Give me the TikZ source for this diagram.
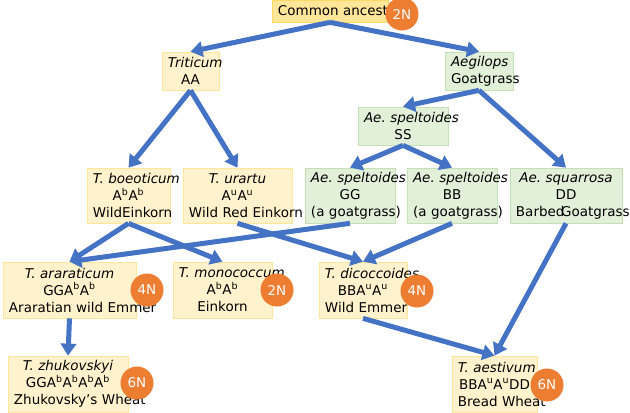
\documentclass[tikz,border=0pt]{standalone}
\usepackage{fontspec}
\setmainfont{DejaVu Sans}
\usetikzlibrary{arrows.meta}
\definecolor{wheatfill}{HTML}{FFF2CC}
\definecolor{wheatline}{HTML}{FFE699}
\definecolor{ancfill}{HTML}{FFE699}
\definecolor{ancline}{HTML}{FFD966}
\definecolor{grassfill}{HTML}{E2F0D9}
\definecolor{grassline}{HTML}{C5E0B4}
\definecolor{ploidy}{HTML}{ED7D31}
\definecolor{lineage}{HTML}{4472C4}
\hyphenpenalty=10000
\exhyphenpenalty=10000

\begin{document}
\begin{tikzpicture}[x=0.03cm, y=-0.03cm, ->, >={Triangle[length=0.36cm, width=0.46cm]}, line width=0.15cm, color=lineage]

\useasboundingbox (0, 0) rectangle (630, 413);

\tikzstyle{every node}=[rectangle, fill=wheatfill, draw=wheatline, line width=0.6pt, inner xsep=0.18cm, inner ysep=0pt, align=center, text=black, font=\fontsize{11.5}{14.5}\selectfont]
\draw    (330,   11)    node[fill=ancfill, draw=ancline, text width=3.12cm, minimum height=0.66cm] (anc) {Common~ancestor}
         (190.5, 71)    node[text width=1.35cm, minimum height=1.14cm] (trit) {\textit{Triticum}\\AA}
         (128.5, 195.5) node[text width=2.13cm, minimum height=1.65cm] (boeo) {\textit{T.~boeoticum}\\A\textsuperscript{b}A\textsuperscript{b}\\WildEinkorn}
         (237.5, 195.5) node[text width=2.91cm, minimum height=1.65cm] (urar) {\textit{T.~urartu}\\A\textsuperscript{u}A\textsuperscript{u}\\Wild~Red~Einkorn}
         (69.5,  290)   node[text width=3.63cm, minimum height=1.68cm] (arar) {\textit{T.~araraticum}\\GGA\textsuperscript{b}A\textsuperscript{b}\\Araratian~wild~Emmer}
         (222.5, 290)   node[text width=2.61cm, minimum height=1.68cm] (mono) {\textit{T.~monococcum}\\A\textsuperscript{b}A\textsuperscript{b}\\Einkorn}
         (363,   290)   node[text width=2.28cm, minimum height=1.68cm] (dico) {\textit{T.~dicoccoides}\\BBA\textsuperscript{u}A\textsuperscript{u}\\Wild~Emmer}
         (68,    384)   node[text width=3.24cm, minimum height=1.68cm] (zhuk) {\textit{T.~zhukovskyi}\\GGA\textsuperscript{b}A\textsuperscript{b}A\textsuperscript{b}A\textsuperscript{b}\\Zhukovsky’s~Wheat}
         (494.5, 384)   node[text width=2.19cm, minimum height=1.68cm] (aest) {\textit{T.~aestivum}\\BBA\textsuperscript{u}A\textsuperscript{u}DD\\Bread~Wheat};

\tikzstyle{every node}=[rectangle, fill=grassfill, draw=grassline, line width=0.6pt, inner xsep=0.18cm, inner ysep=0pt, align=center, text=black, font=\fontsize{11.5}{14.5}\selectfont]
\draw    (479,   71)    node[text width=1.68cm, minimum height=1.14cm] (aeg) {\textit{Aegilops}\\Goatgrass}
         (403,   126)   node[text width=2.34cm, minimum height=1.14cm] (spS) {\textit{Ae.~speltoides}\\SS}
         (350,   195.5) node[text width=2.34cm, minimum height=1.65cm] (spG) {\textit{Ae.~speltoides}\\GG\\(a~goatgrass)}
         (452,   195.5) node[text width=2.34cm, minimum height=1.65cm] (spB) {\textit{Ae.~speltoides}\\BB\\(a~goatgrass)}
         (566,   195.5) node[text width=3.00cm, minimum height=1.65cm] (squa) {\textit{Ae.~squarrosa}\\DD\\Barbed\kern-0.25em Goatgrass};

\draw (anc.south) -- (trit.north);
\draw (anc.south) -- (aeg.north);

\draw (trit.south) -- (boeo.north);
\draw (trit.south) -- (urar.north);

\draw (aeg.south) -- (spS.north);
\draw (aeg.south) -- (squa.north);

\draw (spS.south) -- (spG.north);
\draw (spS.south) -- (spB.north);

\draw (boeo.south) -- (arar.north);
\draw (boeo.south) -- (mono.north);
\draw (spG.south) -- (arar.north);

\draw (urar.south) -- (dico.north);
\draw (spB.south) -- (dico.north);

\draw (arar.south) -- (zhuk.north);
\draw (dico.south) -- (aest.north);
\draw (squa.south) -- (aest.north);

\tikzstyle{every node}=[circle, fill=ploidy, draw=none, text=white, minimum size=0.99cm, inner sep=0pt, font=\fontsize{11.5}{14.5}\selectfont]
\draw    (402,   14)    node (n0) {2N}
         (147,   290)   node (n1) {4N}
         (277,   290)   node (n2) {2N}
         (417,   291)   node (n3) {4N}
         (137,   383)   node (n4) {6N}
         (547,   385)   node (n5) {6N};

\end{tikzpicture}
\end{document}
